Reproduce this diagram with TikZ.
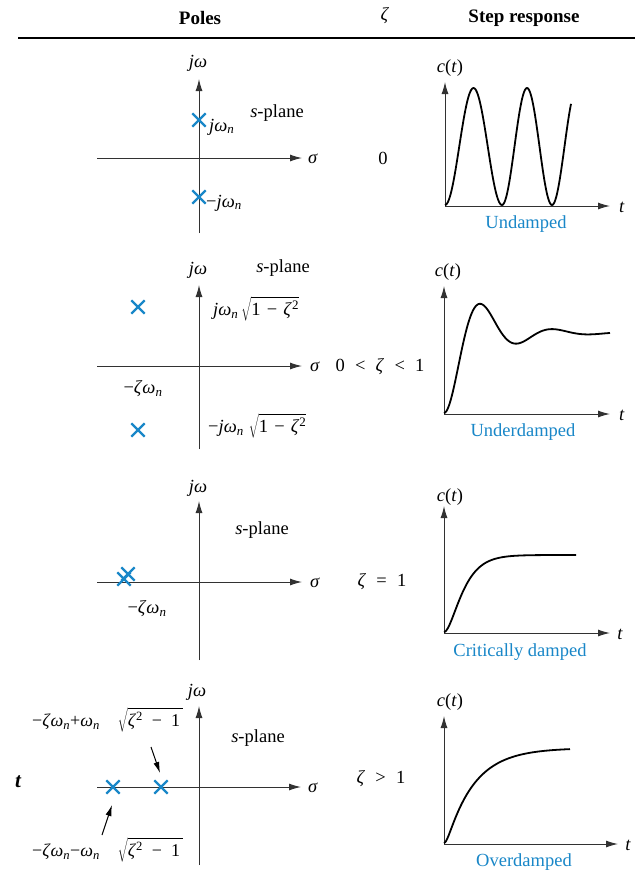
\documentclass[tikz,border=0pt]{standalone}
\usepackage{fontspec}
\setmainfont{Liberation Serif}
\usetikzlibrary{arrows.meta,shapes.misc}
\definecolor{pblue}{RGB}{25,135,200}
\definecolor{axgray}{RGB}{50,50,50}
\tikzset{
  axis/.style={draw=axgray, line width=1pt, -{Latex[length=12pt,width=7pt]}},
  pole/.style={draw=pblue, cross out, line width=2.3pt, minimum size=11pt, inner sep=0pt},
  resp/.style={draw=black, line width=1.8pt, line join=round},
  lbl/.style={font=\fontsize{18.5}{21}\selectfont, inner sep=0pt},
  slbl/.style={font=\fontsize{18}{21}\selectfont, inner sep=0pt},
  caplbl/.style={lbl, text=pblue},
  hdr/.style={font=\bfseries\fontsize{19}{22}\selectfont, inner sep=0pt},
  ptr/.style={draw=black, line width=1pt, -{Latex[length=11pt,width=6pt]}},
}
\newcommand\wn{\textit{ω}\textsubscript{\textit{n}}}
\newcommand\jwn{\textit{jω}\textsubscript{\textit{n}}}
\newcommand\rootA{$\sqrt{\hbox{1\,\,−\,\,\textit{ζ}\textsuperscript{2}}}$}
\newcommand\rootB{$\sqrt{\hbox{\textit{ζ}\textsuperscript{2}\,\,\,−\,\,\,1\,}}$}
\begin{document}
\begin{tikzpicture}[x=1pt,y=-1pt]
\useasboundingbox (0,0) rectangle (635,871);
\fill[white] (0,0) rectangle (635,871);
% header
\node[hdr] (hpoles) at (200,18) {Poles};
\node[lbl] (hzeta) at (385,16) {\textit{ζ}};
\node[hdr] (hstep) at (524,18) {Step response};
\coordinate (hl) at (18,38); \coordinate (hr) at (635,38);
\draw[line width=1.6pt] (hl) -- (hr);

% ---------- Row 1 ----------
\coordinate (v1b) at (199,233); \coordinate (v1t) at (199,79);
\coordinate (h1l) at (97,158); \coordinate (h1r) at (302,158);
\draw[axis] (v1b) -- (v1t);
\draw[axis] (h1l) -- (h1r);
\node[lbl] (jw1) at (198,63) {\textit{jω}};
\node[lbl] (sig1) at (313,159) {\textit{σ}};
\node[lbl] (sp1) at (277,113) {\textit{s}-plane};
\node[pole] (p1a) at (199,120) {};
\node[pole] (p1b) at (199,197) {};
\node[lbl, anchor=west] (l1a) at (209,127) {\jwn};
\node[lbl, anchor=west] (l1b) at (206,203) {−\jwn};
\node[lbl] (z1) at (383,158) {0};
% step 1
\coordinate (o1) at (445,206);
\coordinate (c1t) at (445,82); \coordinate (c1r) at (610,206);
\draw[axis] (o1) -- (c1t);
\draw[axis] (o1) -- (c1r);
\node[lbl] (ct1) at (450,68) {\textit{c}(\textit{t})};
\node[lbl] (t1) at (622,207) {\textit{t}};
\draw[resp] plot[domain=0:57, samples=60] ({445+\x}, {205-58.5*(1-cos(\x*6.3158))})
  -- plot[domain=0:69, samples=70] ({502+\x}, {205-58.5*(1-cos(\x*7.2))});
\node[caplbl] (cap1) at (526,224) {Undamped};

% ---------- Row 2 ----------
\coordinate (v2b) at (199,449); \coordinate (v2t) at (199,285);
\coordinate (h2l) at (97,366); \coordinate (h2r) at (302,366);
\draw[axis] (v2b) -- (v2t);
\draw[axis] (h2l) -- (h2r);
\node[lbl] (jw2) at (198,270) {\textit{jω}};
\node[lbl] (sig2) at (315,367) {\textit{σ}};
\node[lbl] (sp2) at (283,268) {\textit{s}-plane};
\node[pole] (p2a) at (138,307) {};
\node[pole] (p2b) at (138,430) {};
\node[lbl, anchor=west] (l2a) at (213,309) {\jwn\,\rootA};
\node[lbl, anchor=west] (l2b) at (208,426) {−\jwn\;\rootA};
\node[lbl] (zw2) at (143,389) {−\textit{ζ}\wn};
\node[lbl] (z2) at (380,367) {0\;\;<\;\;\textit{ζ}\;\;<\;\;1};
% step 2
\coordinate (o2) at (444,414);
\coordinate (c2t) at (444,286); \coordinate (c2r) at (610,414);
\draw[axis] (o2) -- (c2t);
\draw[axis] (o2) -- (c2r);
\node[lbl] (ct2) at (448,272) {\textit{c}(\textit{t})};
\node[lbl] (t2) at (622,415) {\textit{t}};
\draw[resp] plot[domain=0:166, samples=150] ({444+\x}, {413-80*(1-exp(-0.028*\x)*(cos(5*\x)+0.32*sin(5*\x)))});
\node[caplbl] (cap2) at (523,432) {Underdamped};

% ---------- Row 3 ----------
\coordinate (v3b) at (199,660); \coordinate (v3t) at (199,501);
\coordinate (h3l) at (97,582); \coordinate (h3r) at (302,582);
\draw[axis] (v3b) -- (v3t);
\draw[axis] (h3l) -- (h3r);
\node[lbl] (jw3) at (198,488) {\textit{jω}};
\node[lbl] (sig3) at (315,583) {\textit{σ}};
\node[lbl] (sp3) at (262,530) {\textit{s}-plane};
\node[pole] (p3a) at (124,579) {};
\node[pole] (p3b) at (128,574) {};
\node[lbl] (zw3) at (147,609) {−\textit{ζ}\wn};
\node[lbl] (z3) at (382,582) {\textit{ζ}\;\;=\;\;1};
% step 3
\coordinate (o3) at (444,633);
\coordinate (c3t) at (444,506); \coordinate (c3r) at (610,633);
\draw[axis] (o3) -- (c3t);
\draw[axis] (o3) -- (c3r);
\node[lbl] (ct3) at (450,497) {\textit{c}(\textit{t})};
\node[lbl] (t3) at (620,634) {\textit{t}};
\draw[resp] plot[domain=0:132, samples=120] ({444+\x}, {632-77*(1-(1+0.093*\x)*exp(-0.093*\x))});
\node[caplbl] (cap3) at (520,652) {Critically damped};

% ---------- Row 4 ----------
\coordinate (v4b) at (199,865); \coordinate (v4t) at (199,706);
\coordinate (h4l) at (97,787); \coordinate (h4r) at (301,787);
\draw[axis] (v4b) -- (v4t);
\draw[axis] (h4l) -- (h4r);
\node[lbl] (jw4) at (197,692) {\textit{jω}};
\node[lbl] (sig4) at (313,788) {\textit{σ}};
\node[lbl] (sp4) at (258,738) {\textit{s}-plane};
\node[pole] (p4a) at (113,787) {};
\node[pole] (p4b) at (161,787) {};
\node[slbl, anchor=west] (l4a) at (32,720) {−\textit{ζ}\wn+\wn\hspace{18pt}\rootB};
\node[slbl, anchor=west] (l4b) at (32,850) {−\textit{ζ}\wn−\wn\hspace{18pt}\rootB};
\coordinate (a4s) at (151,747); \coordinate (a4e) at (160,773);
\draw[ptr] (a4s) -- (a4e);
\coordinate (b4s) at (102,835); \coordinate (b4e) at (112,805);
\draw[ptr] (b4s) -- (b4e);
\node[lbl] (z4) at (381,779) {\textit{ζ}\;\;>\;\;1};
\node[font=\bfseries\itshape\fontsize{21}{24}\selectfont, inner sep=0pt] (tt) at (18,782) {t};
% step 4
\coordinate (o4) at (444,844);
\coordinate (c4t) at (444,716); \coordinate (c4r) at (618,844);
\draw[axis] (o4) -- (c4t);
\draw[axis] (o4) -- (c4r);
\node[lbl] (ct4) at (450,702) {\textit{c}(\textit{t})};
\node[lbl] (t4) at (628,845) {\textit{t}};
\draw[resp] plot[domain=0:126, samples=120] ({444+\x}, {843-95*(1-(10*exp(-0.036*\x)-exp(-0.36*\x))/9)});
\node[caplbl] (cap4) at (524,862) {Overdamped};
\end{tikzpicture}
\end{document}
